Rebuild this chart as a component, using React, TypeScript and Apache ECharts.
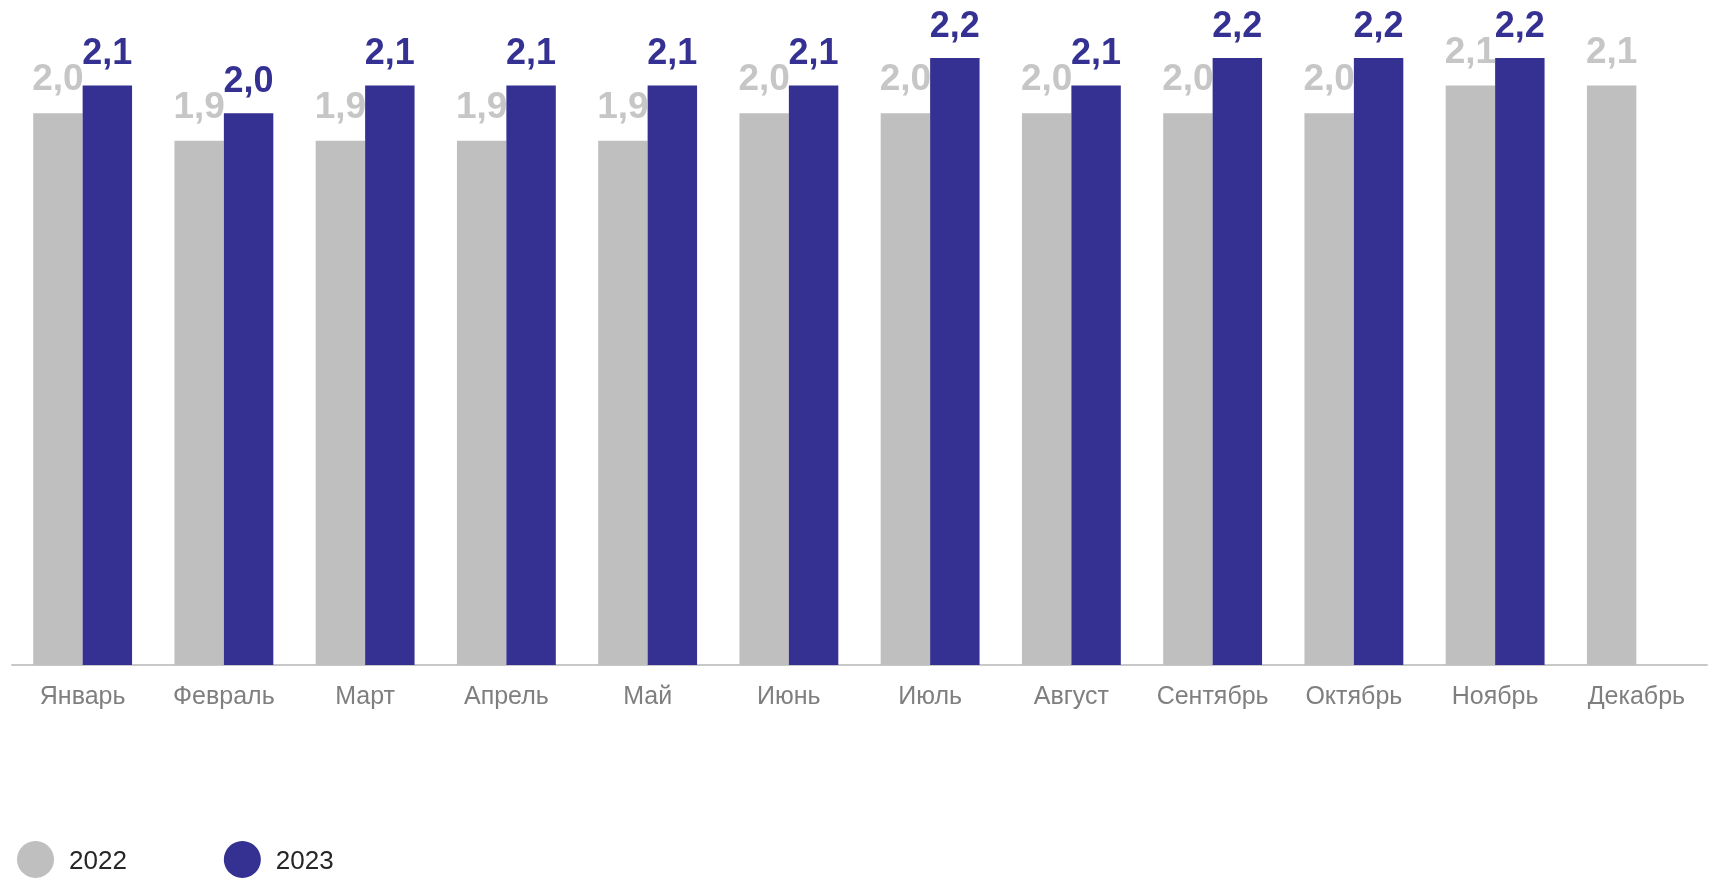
import React, { useEffect, useRef } from "react";
import * as echarts from "echarts";

const months = ["Январь", "Февраль", "Март", "Апрель", "Май", "Июнь", "Июль", "Август", "Сентябрь", "Октябрь", "Ноябрь", "Декабрь"];
const values2022 = [2.0, 1.9, 1.9, 1.9, 1.9, 2.0, 2.0, 2.0, 2.0, 2.0, 2.1, 2.1];
const values2023: (number | null)[] = [2.1, 2.0, 2.1, 2.1, 2.1, 2.1, 2.2, 2.1, 2.2, 2.2, 2.2, null];
const seriesNames = ["2022", "2023"];

const FONT = "'Liberation Sans', Arial, sans-serif";
const fmt = (p: any) => (p.value == null ? "" : Number(p.value).toFixed(1).replace(".", ","));

export default function App() {
  const ref = useRef<HTMLDivElement>(null);
  useEffect(() => {
    if (!ref.current) return;
    const chart = echarts.init(ref.current, undefined, { renderer: "svg" });
    chart.setOption({
      animation: false,
      textStyle: { fontFamily: FONT },
      grid: { left: 12, right: 9, top: 58, bottom: 214, containLabel: false },
      legend: {
        left: 17,
        top: 841,
        padding: 0,
        icon: "circle",
        itemWidth: 37,
        itemHeight: 37,
        itemGap: 97,
        textStyle: { fontSize: 26, color: "#262626", fontFamily: FONT, padding: [0, 0, 0, 10] },
        data: seriesNames,
      },
      xAxis: {
        type: "category",
        data: months,
        axisLine: { show: true, lineStyle: { color: "#c8c8c8", width: 2 } },
        axisTick: { show: false },
        axisLabel: { color: "#7f7f7f", fontSize: 25, margin: 17, fontFamily: FONT, interval: 0 },
      },
      yAxis: {
        type: "value",
        min: 0,
        max: 2.2,
        show: false,
        splitLine: { show: false },
      },
      series: [
        {
          name: seriesNames[0],
          type: "bar",
          data: values2022,
          barGap: "0%",
          barCategoryGap: "30%",
          itemStyle: { color: "#bfbfbf" },
          label: {
            show: true,
            position: "top",
            distance: 17,
            formatter: fmt,
            color: "#c6c6c6",
            fontSize: 37,
            fontWeight: "bold",
            fontFamily: FONT,
          },
        },
        {
          name: seriesNames[1],
          type: "bar",
          data: values2023,
          barGap: "0%",
          barCategoryGap: "30%",
          itemStyle: { color: "#353192" },
          label: {
            show: true,
            position: "top",
            distance: 16,
            formatter: fmt,
            color: "#353192",
            fontSize: 36,
            fontWeight: "bold",
            fontFamily: FONT,
          },
        },
      ],
    });
    return () => chart.dispose();
  }, []);
  return <div ref={ref} style={{ position: "fixed", left: 0, top: 0, width: 1716, height: 879 }} />;
}
